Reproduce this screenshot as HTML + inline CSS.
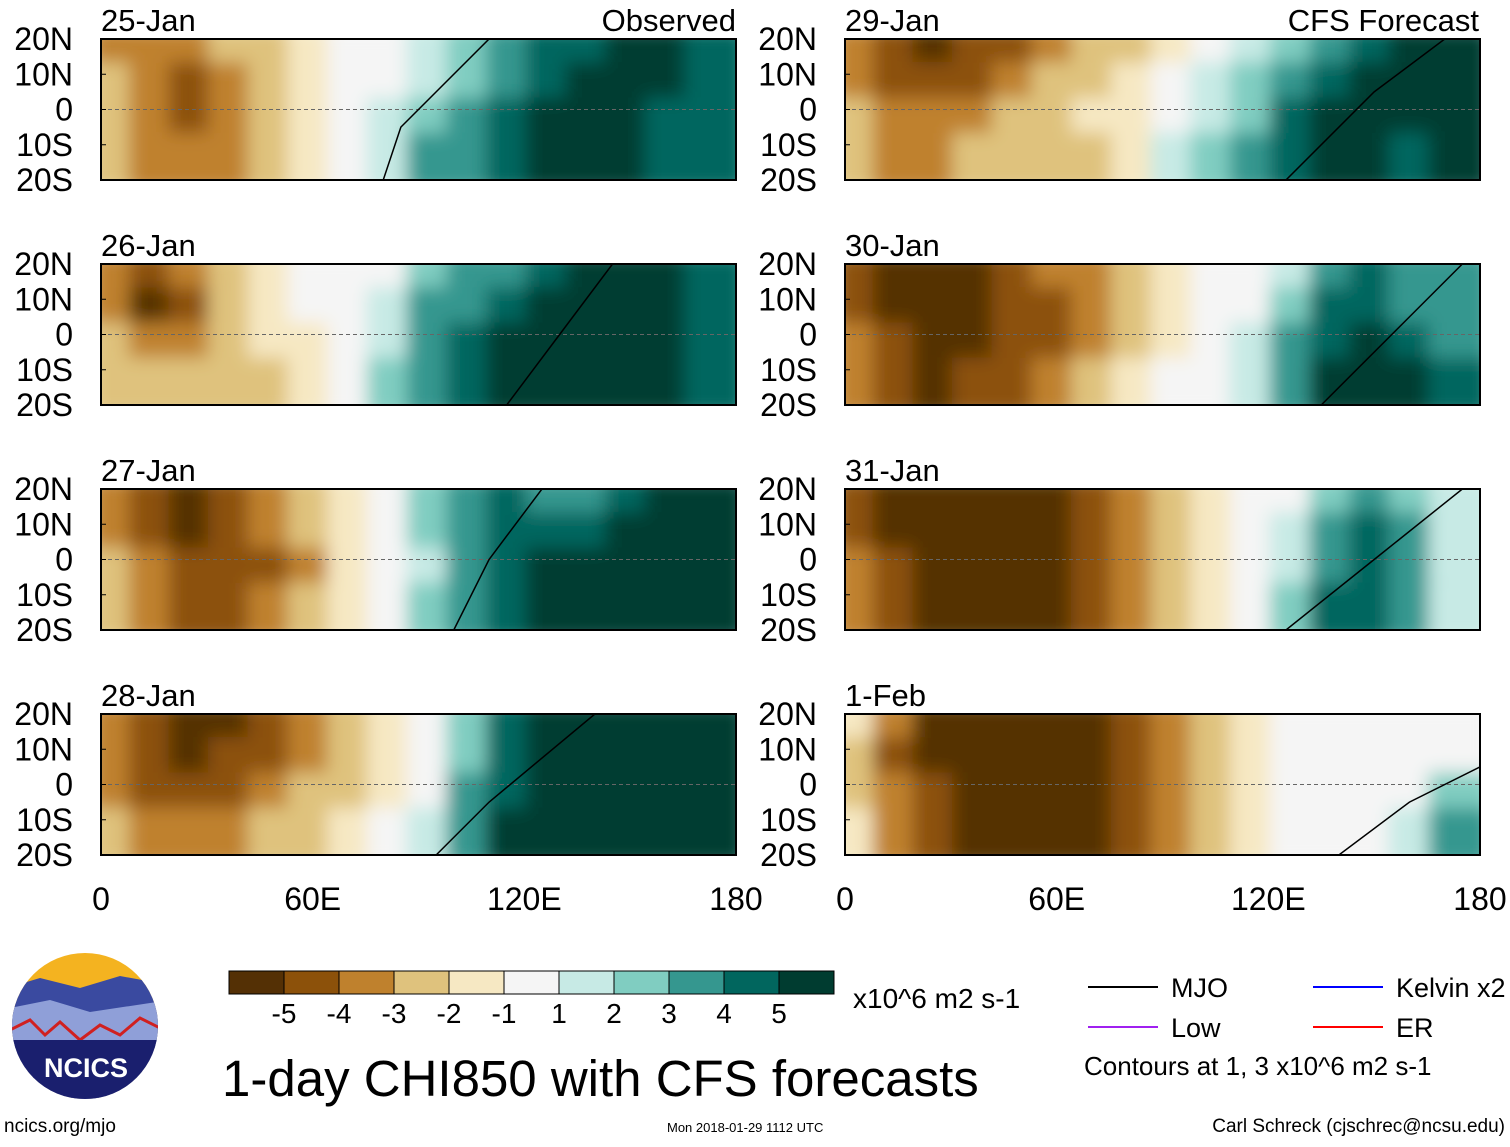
<!DOCTYPE html>
<html><head><meta charset="utf-8"><style>
body{margin:0;background:#fff;}
svg text{font-family:"Liberation Sans",sans-serif;}
</style></head><body>
<svg id="c" width="1510" height="1142" xmlns="http://www.w3.org/2000/svg">
<defs><filter id="bl" x="0" y="0" width="1" height="1"><feGaussianBlur stdDeviation="9"/></filter></defs>
</svg>
<script>
const colors=["#543005","#8c510a","#bf812d","#dfc27d","#f6e8c3","#f5f5f5","#c7eae5","#80cdc1","#35978f","#01665e","#003c30"];
const cbLabels=["-5","-4","-3","-2","-1","1","2","3","4","5"];
const panelDates=["25-Jan","26-Jan","27-Jan","28-Jan","29-Jan","30-Jan","31-Jan","1-Feb"];
const latLabels=["20N","10N","0","10S","20S"];
const lonLabels=["0","60E","120E","180"];
const p1=[[2,2,2,3,3,4,5,5,6,7,8,9,9,10,10,9],[3,2,1,2,3,4,5,5,6,7,8,9,10,10,10,9],[3,2,1,2,3,4,5,6,7,8,9,10,10,10,9,9],[3,2,2,2,3,4,5,6,8,8,9,10,10,10,9,9]];
const p2=[[2,1,2,3,4,5,5,5,7,8,8,9,10,10,10,9],[2,0,1,3,4,5,5,6,8,8,9,10,10,10,10,9],[3,2,2,3,4,4,5,6,8,9,10,10,10,10,10,9],[3,3,3,3,3,4,5,7,8,9,10,10,10,10,10,9]];
const p3=[[2,1,0,1,2,3,4,5,7,8,9,8,8,9,10,10],[2,1,0,1,2,3,4,5,7,8,9,9,9,10,10,10],[3,2,1,1,1,2,4,5,6,8,9,10,10,10,10,10],[3,2,1,1,2,3,4,5,7,8,9,10,10,10,10,10]];
const p4=[[2,1,0,0,1,2,3,4,5,7,9,10,10,10,10,10],[2,1,0,1,1,2,3,4,5,7,9,10,10,10,10,10],[2,1,1,1,2,3,3,4,5,8,9,10,10,10,10,10],[3,2,2,2,3,3,4,5,6,8,10,10,10,10,10,10]];
const p5=[[2,1,0,1,1,2,3,3,4,5,6,7,8,9,10,10],[2,1,1,1,2,3,3,4,5,6,7,8,9,10,10,10],[3,2,2,2,3,3,4,4,5,6,7,9,10,10,10,10],[3,2,2,3,3,3,3,4,6,7,8,9,10,10,9,10]];
const p6=[[1,0,0,0,1,2,2,3,4,5,5,6,8,9,8,8],[1,0,0,0,1,1,2,3,4,5,5,7,9,9,8,8],[2,1,0,0,1,1,2,3,4,5,6,8,9,10,9,8],[2,1,0,1,1,2,3,4,5,5,6,8,10,10,10,9]];
const p7=[[1,0,0,0,0,0,1,2,3,4,5,5,7,8,7,6],[1,0,0,0,0,0,1,2,3,4,5,6,8,9,8,6],[2,1,0,0,0,0,1,2,3,4,5,6,8,9,8,6],[2,1,0,0,0,0,1,2,3,4,5,7,9,9,8,6]];
const p8=[[4,2,0,0,0,0,0,1,2,3,4,5,5,5,5,5],[3,1,0,0,0,0,0,1,2,3,4,5,5,5,5,5],[3,2,1,0,0,0,0,1,2,3,4,5,5,5,5,7],[4,2,1,0,0,0,0,1,2,3,4,5,5,5,6,8]];
const grids=[p1,p2,p3,p4,p5,p6,p7,p8];
const mjo=[[[80,-20],[85,-5],[95,5],[110,20]],[[115,-20],[130,0],[145,20]],[[100,-20],[110,0],[125,20]],[[95,-20],[110,-5],[140,20]],[[125,-20],[150,5],[170,20]],[[135,-20],[160,5],[175,20]],[[125,-20],[150,0],[175,20]],[[140,-20],[160,-5],[180,5]]];
const S="http://www.w3.org/2000/svg";
const svg=document.getElementById('c');
function mk(t,a,p){const e=document.createElementNS(S,t);for(const k in a)e.setAttribute(k,a[k]);(p||svg).appendChild(e);return e;}
const panelTops=[39,264,489,714];
const W=635,H=141;
grids.forEach((g,i)=>{
  const x0=i<4?101:845, y0=panelTops[i%4];
  const xs=lon=>x0+lon/180*W, ys=lat=>y0+(20-lat)/40*H;
  const grp=mk('g',{});
  
  
  const cp=mk('clipPath',{id:'cp'+i},grp);
  mk('rect',{x:x0,y:y0,width:W,height:H},cp);
  const fg=mk('g',{'clip-path':'url(#cp'+i+')'},grp);
  const inner=mk('g',{filter:'url(#bl)'},fg);
  const nc=g[0].length,nr=g.length;
  g.forEach((row,r)=>row.forEach((v,c)=>{
    const lon0=c*180/nc,lat0=20-r*40/nr;
    const cell=mk('rect',{x:xs(lon0)-12,y:ys(lat0)-12,width:W/nc+24,height:H/nr+24,fill:colors[v]},inner);
    
    
  }));
  mk('line',{x1:x0,x2:x0+W,y1:ys(0),y2:ys(0),stroke:'#666','stroke-dasharray':'4,3','stroke-width':1},fg);
  mk('polyline',{points:mjo[i].map(p=>xs(p[0])+','+ys(p[1])).join(' '),fill:'none',stroke:'#000','stroke-width':1.5},fg);
  mk('rect',{x:x0,y:y0,width:W,height:H,fill:'none',stroke:'#000','stroke-width':2},grp);
  const d=mk('text',{x:x0,y:y0-8,'font-size':31},grp);d.textContent=panelDates[i];
  latLabels.forEach((l,k)=>{const t=mk('text',{x:x0-28,y:y0+k*H/4+11,'font-size':32,'text-anchor':'end'},grp);t.textContent=l;
    mk('line',{x1:x0,x2:x0+5,y1:y0+k*H/4,y2:y0+k*H/4,stroke:'#000'},grp);});
});
[[736,'Observed'],[1479,'CFS Forecast']].forEach(([x,s])=>{const t=mk('text',{x:x,y:31,'font-size':31,'text-anchor':'end'});t.textContent=s;});
[101,845].forEach(x0=>lonLabels.forEach((l,k)=>{const t=mk('text',{x:x0+k*W/3,y:910,'font-size':32,'text-anchor':'middle'});t.textContent=l;}));
const cb=mk('g',{});
colors.forEach((c,k)=>mk('rect',{x:229+k*55,y:971,width:55,height:23,fill:c,stroke:'#000','stroke-width':1},cb));
cbLabels.forEach((l,k)=>{const t=mk('text',{x:284+k*55,y:1023,'font-size':28,'text-anchor':'middle'},cb);t.textContent=l;});
let t=mk('text',{x:853,y:1008,'font-size':28});t.textContent='x10^6 m2 s-1';
t=mk('text',{x:222,y:1096,'font-size':51});t.textContent='1-day CHI850 with CFS forecasts';
[[1088,987,'#000','MJO'],[1313,987,'#0000ff','Kelvin x2'],[1088,1027,'#a020f0','Low'],[1313,1027,'#ff0000','ER']].forEach(([x,y,c,s])=>{
  mk('line',{x1:x,x2:x+70,y1:y,y2:y,stroke:c,'stroke-width':2});
  const e=mk('text',{x:x+83,y:y+10,'font-size':27});e.textContent=s;});
t=mk('text',{x:1084,y:1075,'font-size':26});t.textContent='Contours at 1, 3 x10^6 m2 s-1';
t=mk('text',{x:4,y:1132,'font-size':19});t.textContent='ncics.org/mjo';
t=mk('text',{x:667,y:1132,'font-size':13});t.textContent='Mon 2018-01-29 1112 UTC';
t=mk('text',{x:1505,y:1132,'font-size':19,'text-anchor':'end'});t.textContent='Carl Schreck (cjschrec@ncsu.edu)';
const lg=mk('g',{});
const lc=mk('clipPath',{id:'lc'},lg);mk('circle',{cx:85,cy:1026,r:73},lc);
const li=mk('g',{'clip-path':'url(#lc)'},lg);
mk('rect',{x:0,y:950,width:170,height:160,fill:'#f4b320'},li);
mk('polygon',{points:'0,990 40,978 80,988 120,976 170,985 170,1110 0,1110',fill:'#3a4aa0'},li);
mk('polygon',{points:'0,1010 50,1000 90,1012 170,1000 170,1110 0,1110',fill:'#8f9fd8'},li);
mk('polyline',{points:'10,1030 30,1020 45,1035 60,1022 80,1040 100,1025 120,1035 140,1018 160,1028',fill:'none',stroke:'#d02020','stroke-width':3},li);
mk('rect',{x:0,y:1040,width:170,height:70,fill:'#1a1f6e'},li);
t=mk('text',{x:86,y:1077,'font-size':27,'font-weight':'bold','text-anchor':'middle',fill:'#fff'},lg);t.textContent='NCICS';
</script>
</body></html>
